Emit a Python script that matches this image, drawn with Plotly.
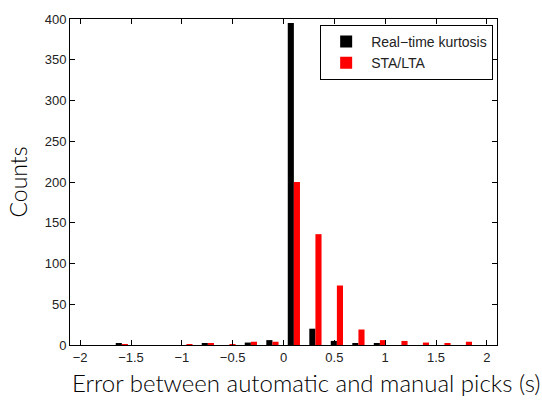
import plotly.graph_objects as go

bin_centers = [-1.59, -1.378, -1.167, -0.955, -0.744, -0.532, -0.321, -0.109,
               0.102, 0.314, 0.525, 0.737, 0.948, 1.16, 1.371, 1.583, 1.794]
kurtosis_counts = [2, 0, 0, 0, 2, 0, 3, 6, 395, 20, 5, 2, 2, 0, 0, 0, 0]
stalta_counts = [1, 0, 0, 1, 2, 1, 4, 4, 200, 136, 73, 19, 6, 5, 3, 2, 4]
x_ticks = [-2, -1.5, -1, -0.5, 0, 0.5, 1, 1.5, 2]
y_ticks = [0, 50, 100, 150, 200, 250, 300, 350, 400]
x_title = "Error between automatic and manual picks (s)"
y_title = "Counts"

fig = go.Figure()
fig.add_trace(go.Bar(x=bin_centers, y=kurtosis_counts, name="Real\u2212time kurtosis",
                     marker=dict(color="black", line=dict(width=0))))
fig.add_trace(go.Bar(x=bin_centers, y=stalta_counts, name="STA/LTA",
                     marker=dict(color="#ff0000", line=dict(width=0))))

axis_common = dict(showline=True, linecolor="black", linewidth=1, mirror="ticks",
                   ticks="inside", ticklen=5, tickcolor="black", showgrid=False,
                   zeroline=False,
                   tickfont=dict(family="Liberation Sans, Arial", size=13, color="#222"))

title_font = dict(family="Lato, Open Sans", size=23, color="black", weight=300)

fig.update_layout(
    width=542, height=400,
    margin=dict(l=70, r=45, t=17, b=55),
    paper_bgcolor="white", plot_bgcolor="white",
    barmode="group", bargap=0.43, bargroupgap=0,
    xaxis=dict(range=[-2.1, 2.1], tickvals=x_ticks,
               ticktext=[("\u2212" + str(abs(v)) if v < 0 else str(v)) for v in x_ticks],
               **axis_common),
    yaxis=dict(range=[0, 400], tickvals=y_ticks,
               title=dict(text=y_title, font=title_font, standoff=10),
               **axis_common),
    legend=dict(x=0.991, y=0.982, xanchor="right", yanchor="top",
                bordercolor="black", borderwidth=1, bgcolor="white",
                font=dict(family="Liberation Sans, Arial", size=14, color="#222"),
                tracegroupgap=0, itemwidth=40),
    showlegend=True,
    annotations=[dict(text=x_title, xref="paper", yref="paper", x=0.555, y=-0.116,
                      xanchor="center", yanchor="middle", showarrow=False,
                      font=dict(family="Lato, Open Sans", size=24, color="black", weight=300))],
)

fig.write_html("out.html")
